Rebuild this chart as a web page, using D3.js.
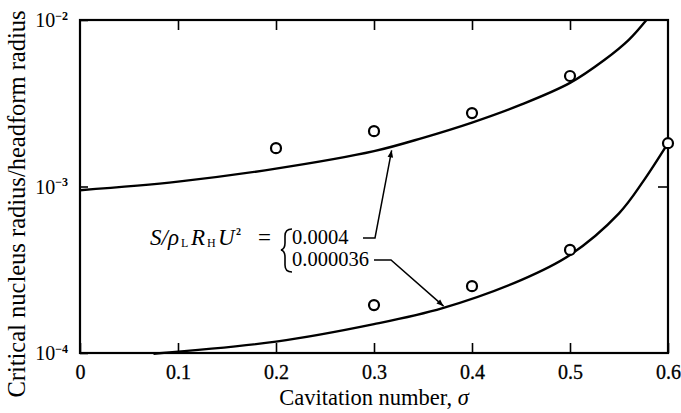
<!DOCTYPE html>
<html><head><meta charset="utf-8">
<script src="https://cdn.jsdelivr.net/npm/d3@7"></script>
<style>
body{margin:0;background:#fff;}
text{font-family:"Liberation Serif","Times New Roman",serif;fill:#000;}
</style></head>
<body><svg id="c" width="681" height="413"></svg>
<script>
// ---- data ----
const xTicks = [0, 0.1, 0.2, 0.3, 0.4, 0.5, 0.6];
const xTickLabels = ["0", "0.1", "0.2", "0.3", "0.4", "0.5", "0.6"];
const yTicks = [1e-4, 1e-3, 1e-2];
const yTickExp = ["−4", "−3", "−2"];
// measured points (circles)
const upperPtsSigma = [0.2, 0.3, 0.4, 0.5];
const upperPtsVal = [1.70e-3, 2.15e-3, 2.76e-3, 4.61e-3];
const lowerPtsSigma = [0.3, 0.4, 0.5, 0.6];
const lowerPtsVal = [1.94e-4, 2.52e-4, 4.16e-4, 1.82e-3];
// theory curves
const upperCurveSigma = [0, 0.1, 0.2, 0.3, 0.35, 0.4, 0.45, 0.5, 0.535, 0.56, 0.578];
const upperCurveVal = [9.5e-4, 1.07e-3, 1.28e-3, 1.63e-3, 1.96e-3, 2.42e-3, 3.1e-3, 4.19e-3, 5.75e-3, 7.6e-3, 1.0e-2];
const lowerCurveSigma = [0.075, 0.2, 0.3, 0.37, 0.45, 0.5, 0.55, 0.575, 0.6];
const lowerCurveVal = [0.99e-4, 1.17e-4, 1.49e-4, 1.86e-4, 2.74e-4, 3.88e-4, 6.9e-4, 1.08e-3, 1.82e-3];
const paramLabels = ["0.0004", "0.000036"];

// ---- layout ----
const svg = d3.select("#c");
const x = d3.scaleLinear().domain([0, 0.6]).range([80, 668]);
const y = d3.scaleLog().domain([1e-4, 1e-2]).range([353, 20]);

svg.append("defs").append("clipPath").attr("id","clip")
  .append("rect").attr("x",80).attr("y",20).attr("width",588).attr("height",333);

// axes
const gB = svg.append("g").attr("transform","translate(0,353)")
  .call(d3.axisBottom(x).tickValues(xTicks).tickSize(-10)
    .tickFormat((d,i)=>xTickLabels[i]));
const gT = svg.append("g").attr("transform","translate(0,20)")
  .call(d3.axisTop(x).tickValues(xTicks.slice(1,6)).tickSize(-10).tickFormat(""));
const gL = svg.append("g").attr("transform","translate(80,0)")
  .call(d3.axisLeft(y).tickValues(yTicks).tickSize(-8).tickFormat(()=>""));
const gR = svg.append("g").attr("transform","translate(668,0)")
  .call(d3.axisRight(y).tickValues([1e-3]).tickSize(-10).tickFormat(""));
[gB,gT,gL,gR].forEach(g=>{
  g.select(".domain").remove();
  g.selectAll("line").attr("stroke","#000").attr("stroke-width",1.6);
  g.selectAll("text").style("font-family","Liberation Serif");
});
gB.selectAll("text").style("font-size","20px").attr("dy",null).attr("y",26)
  .style("stroke","#000").style("stroke-width","0.3px");
// y tick labels with superscript
gL.selectAll(".tick").each(function(d,i){
  const t = d3.select(this).select("text").attr("x",-12).attr("dy","0.33em")
     .style("text-anchor","end").style("font-size","20px").text(null);
  t.append("tspan").text("10");
  t.append("tspan").attr("dy","-0.6em").style("font-size","12px").style("font-weight","bold").text(yTickExp[i]);
});

// frame
svg.append("rect").attr("x",80).attr("y",20).attr("width",588).attr("height",333)
  .attr("fill","none").attr("stroke","#000").attr("stroke-width",2.2);

// curves
const line = d3.line().x(d=>x(d[0])).y(d=>y(d[1])).curve(d3.curveCatmullRom.alpha(0.5));
const cg = svg.append("g").attr("clip-path","url(#clip)");
cg.append("path").datum(upperCurveSigma.map((s,i)=>[s,upperCurveVal[i]]))
  .attr("d",line).attr("fill","none").attr("stroke","#000").attr("stroke-width",2.4);
svg.append("path").datum(lowerCurveSigma.map((s,i)=>[s,lowerCurveVal[i]]))
  .attr("d",line).attr("fill","none").attr("stroke","#000").attr("stroke-width",2.4);

// points
const pts = upperPtsSigma.map((s,i)=>[s,upperPtsVal[i]])
  .concat(lowerPtsSigma.map((s,i)=>[s,lowerPtsVal[i]]));
svg.selectAll("circle.p").data(pts).enter().append("circle")
  .attr("cx",d=>x(d[0])).attr("cy",d=>y(d[1])).attr("r",5)
  .attr("fill","#fff").attr("stroke","#000").attr("stroke-width",2.2);

// annotation
const ann = svg.append("text").attr("y",245)
  .style("font-size","23px").style("font-style","italic");
ann.append("tspan").attr("x",150).text("S/ρ");
ann.append("tspan").attr("x",181).attr("dy",2).style("font-size","12px").style("font-style","normal").text("L");
ann.append("tspan").attr("x",191).attr("dy",-2).text("R");
ann.append("tspan").attr("x",207).attr("dy",2).style("font-size","12px").style("font-style","normal").text("H");
ann.append("tspan").attr("x",218).attr("dy",-2).text("U");
ann.append("tspan").attr("x",236).attr("dy",-10).style("font-size","10px").style("font-style","normal").style("font-weight","bold").text("2");
ann.append("tspan").attr("x",258).attr("dy",10).style("font-style","normal").text("=");
// brace
svg.append("path")
  .attr("d","M292,229 Q285,229 285,236 L285,243 Q285,249 281,250 Q285,251 285,257 L285,265 Q285,272 292,272")
  .attr("fill","none").attr("stroke","#000").attr("stroke-width",1.6);
svg.append("text").attr("x",292).attr("y",244).style("font-size","20.5px").text(paramLabels[0]);
svg.append("text").attr("x",292).attr("y",266).style("font-size","20.5px").text(paramLabels[1]);

// leaders with arrowheads
const defs = svg.select("defs");
defs.append("marker").attr("id","ah").attr("viewBox","0 0 10 10").attr("refX",10).attr("refY",5)
  .attr("markerWidth",10).attr("markerHeight",7).attr("orient","auto").attr("markerUnits","userSpaceOnUse")
  .append("path").attr("d","M0,1 L10,5 L0,9 Z").attr("fill","#000");
svg.append("path").attr("d",`M363,238 L375,238 L${x(0.318)},${y(1.72e-3)+3}`)
  .attr("fill","none").attr("stroke","#000").attr("stroke-width",1.5).attr("marker-end","url(#ah)");
svg.append("path").attr("d",`M374,260 L391,260 L${x(0.371)},${y(1.86e-4)-2}`)
  .attr("fill","none").attr("stroke","#000").attr("stroke-width",1.5).attr("marker-end","url(#ah)");

// axis titles
svg.append("text").attr("x",374).attr("y",405).attr("text-anchor","middle")
  .style("font-size","22.5px").html('Cavitation number, <tspan font-style="italic">σ</tspan>');
svg.append("text").attr("transform","translate(25,204) rotate(-90)").attr("text-anchor","middle")
  .style("font-size","24.5px").text("Critical nucleus radius/headform radius");
</script></body></html>
